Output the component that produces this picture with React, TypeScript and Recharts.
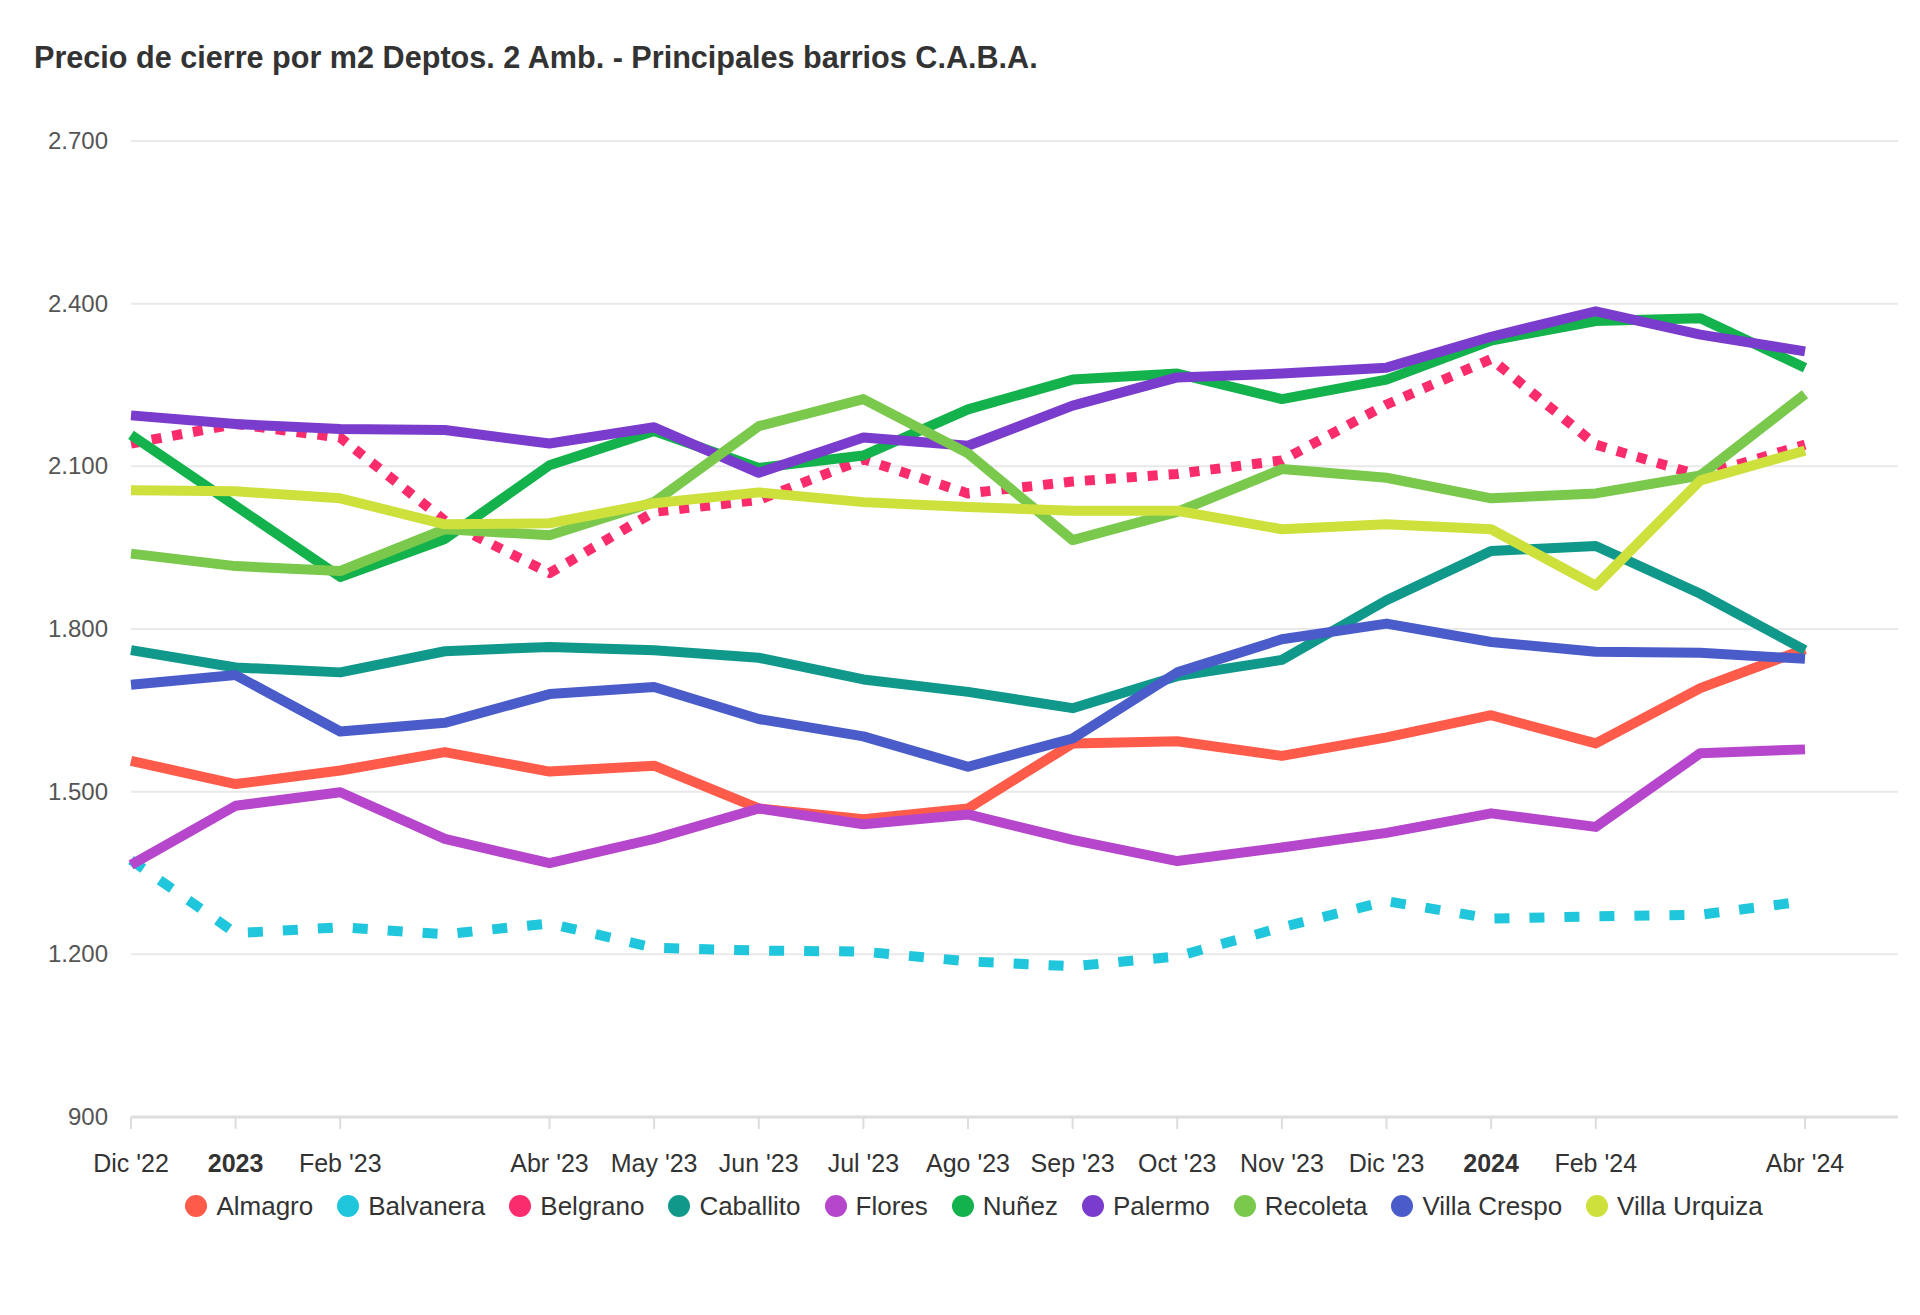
import React from 'react';
import { LineChart, Line, XAxis, YAxis, CartesianGrid, Legend } from 'recharts';

const title = 'Precio de cierre por m2 Deptos. 2 Amb. - Principales barrios C.A.B.A.';

const months = [
  "Dic '22", '2023', "Feb '23", "Mar '23", "Abr '23", "May '23", "Jun '23", "Jul '23", "Ago '23",
  "Sep '23", "Oct '23", "Nov '23", "Dic '23", '2024', "Feb '24", "Mar '24", "Abr '24",
];
const boldLabels = ['2023', '2024'];
const xTickIndexes = [0, 1, 2, 4, 5, 6, 7, 8, 9, 10, 11, 12, 13, 14, 16];
const yTicks = [900, 1200, 1500, 1800, 2100, 2400, 2700];

const almagro = [1557, 1514, 1539, 1573, 1537, 1548, 1469, 1449, 1469, 1589, 1593, 1566, 1600, 1641, 1589, 1691, 1763];
const balvanera = [1374, 1239, 1250, 1237, 1257, 1212, 1207, 1205, 1187, 1178, 1196, 1250, 1298, 1266, 1270, 1273, 1298];
const belgrano = [2142, 2178, 2153, 2000, 1903, 2016, 2038, 2113, 2050, 2072, 2086, 2111, 2214, 2298, 2140, 2083, 2140];
const caballito = [1761, 1729, 1720, 1759, 1767, 1761, 1747, 1707, 1684, 1654, 1713, 1743, 1853, 1944, 1953, 1865, 1761];
const flores = [1365, 1474, 1499, 1413, 1368, 1413, 1469, 1440, 1458, 1411, 1372, 1397, 1424, 1460, 1435, 1571, 1578];
const nunez = [2158, 2027, 1896, 1966, 2102, 2165, 2097, 2120, 2205, 2260, 2271, 2224, 2260, 2332, 2368, 2373, 2282];
const palermo = [2194, 2178, 2169, 2167, 2142, 2172, 2088, 2153, 2138, 2212, 2264, 2271, 2282, 2339, 2386, 2343, 2312];
const recoleta = [1939, 1916, 1907, 1984, 1973, 2034, 2174, 2224, 2124, 1964, 2016, 2095, 2079, 2041, 2050, 2083, 2233];
const villaCrespo = [1697, 1715, 1611, 1627, 1680, 1693, 1634, 1602, 1546, 1598, 1720, 1781, 1810, 1776, 1758, 1756, 1745];
const villaUrquiza = [2056, 2054, 2041, 1993, 1995, 2032, 2052, 2034, 2025, 2018, 2018, 1984, 1993, 1984, 1880, 2074, 2129];

const series = [
  { name: 'Almagro', values: almagro, color: '#ff5b4a', dash: undefined },
  { name: 'Balvanera', values: balvanera, color: '#1fc6dc', dash: '15 20' },
  { name: 'Belgrano', values: belgrano, color: '#fb2c6c', dash: '10 11' },
  { name: 'Caballito', values: caballito, color: '#10998a', dash: undefined },
  { name: 'Flores', values: flores, color: '#b646cc', dash: undefined },
  { name: 'Nuñez', values: nunez, color: '#14b24c', dash: undefined },
  { name: 'Palermo', values: palermo, color: '#7a3ccc', dash: undefined },
  { name: 'Recoleta', values: recoleta, color: '#7ac94c', dash: undefined },
  { name: 'Villa Crespo', values: villaCrespo, color: '#4a5cc9', dash: undefined },
  { name: 'Villa Urquiza', values: villaUrquiza, color: '#cde03c', dash: undefined },
];

const data = months.map((m, i) => {
  const row: Record<string, number | string> = { idx: i, month: m };
  series.forEach((s) => {
    row[s.name] = s.values[i];
  });
  return row;
});

const FONT = '"Liberation Sans", Arial, Helvetica, sans-serif';

const fmtThousands = (v: number) => String(v).replace(/\B(?=(\d{3})+(?!\d))/g, '.');

const XTick = (props: any) => {
  const { x, y, payload } = props;
  const label = months[payload.value];
  const bold = boldLabels.includes(label);
  return (
    <text x={x} y={y + 41} textAnchor="middle" fontSize={25} fontFamily={FONT} fill="#333" fontWeight={bold ? 700 : 400}>
      {label}
    </text>
  );
};

const YTick = (props: any) => {
  const { x, y, payload } = props;
  return (
    <text x={x} y={y} dy={8} textAnchor="end" fontSize={24} fontFamily={FONT} fill="#555">
      {fmtThousands(payload.value)}
    </text>
  );
};

const LegendContent = () => (
  <div
    style={{
      display: 'flex',
      justifyContent: 'center',
      alignItems: 'center',
      fontSize: 26,
      fontFamily: FONT,
      color: '#333',
      paddingLeft: 52,
      whiteSpace: 'nowrap',
    }}
  >
    {series.map((s) => (
      <div key={s.name} style={{ display: 'flex', alignItems: 'center', marginRight: 24 }}>
        <svg width={22} height={22} style={{ display: 'block' }}>
          <circle cx={11} cy={11} r={11} fill={s.color} />
        </svg>
        <span style={{ marginLeft: 9, lineHeight: '30px' }}>{s.name}</span>
      </div>
    ))}
  </div>
);

export default function App() {
  return (
    <div style={{ position: 'absolute', left: 0, top: 0, width: 1920, height: 1315, background: '#fff', fontFamily: FONT }}>
      <LineChart width={1920} height={1315} data={data} margin={{ top: 141, right: 22, bottom: 168, left: 0 }}>
        <CartesianGrid vertical={false} stroke="#e9e9e9" strokeWidth={2} />
        <XAxis
          dataKey="idx"
          type="number"
          domain={[0, 16]}
          ticks={xTickIndexes}
          interval={0}
          height={30}
          padding={{ left: 0, right: 93 }}
          axisLine={{ stroke: '#dddddd', strokeWidth: 3 }}
          tickLine={{ stroke: '#dddddd', strokeWidth: 2 }}
          tickSize={12}
          tick={<XTick />}
        />
        <YAxis
          type="number"
          domain={[900, 2700]}
          ticks={yTicks}
          interval={0}
          width={131}
          axisLine={false}
          tickLine={false}
          tickSize={0}
          tickMargin={23}
          tick={<YTick />}
        />
        {series.map((s) => (
          <Line
            key={s.name}
            type="linear"
            dataKey={s.name}
            stroke={s.color}
            strokeWidth={10}
            strokeDasharray={s.dash}
            strokeLinejoin="round"
            dot={false}
            activeDot={false}
            isAnimationActive={false}
          />
        ))}
        <Legend
          layout="horizontal"
          verticalAlign="middle"
          align="center"
          wrapperStyle={{ top: 1191, left: 0, width: 1920 }}
          content={() => <LegendContent />}
        />
      </LineChart>
      <div
        style={{
          position: 'absolute',
          left: 34,
          top: 40,
          fontSize: 30.6,
          lineHeight: '34px',
          fontWeight: 700,
          color: '#333',
          fontFamily: FONT,
          whiteSpace: 'nowrap',
        }}
      >
        {title}
      </div>
    </div>
  );
}
